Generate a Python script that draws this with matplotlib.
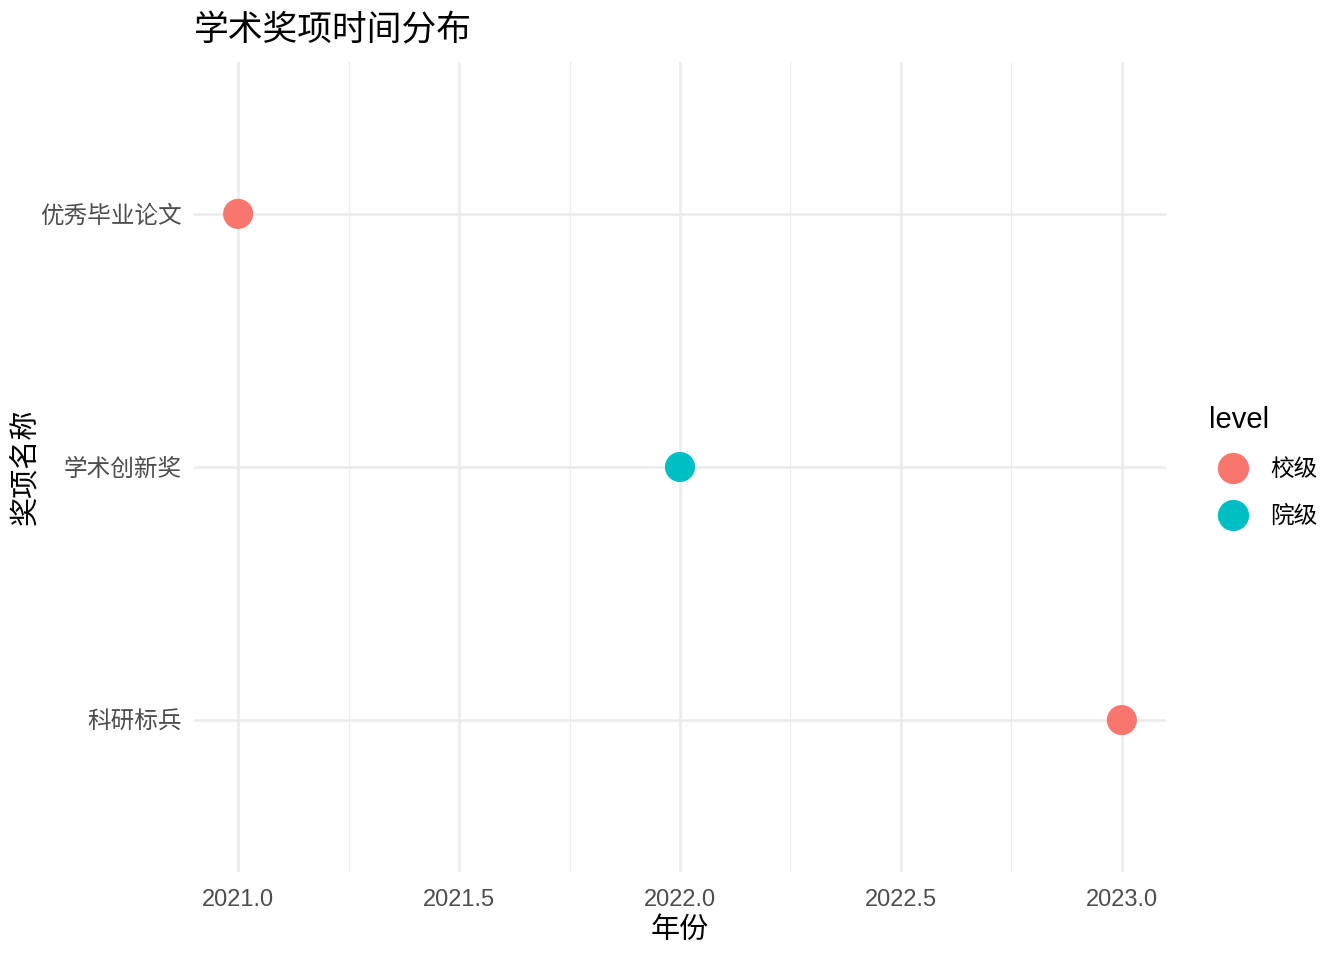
import matplotlib
matplotlib.use("Agg")
import matplotlib.pyplot as plt
from matplotlib.lines import Line2D
from matplotlib.ticker import MultipleLocator, FormatStrFormatter

plt.rcParams["font.family"] = ["Liberation Sans", "Noto Sans CJK SC", "DejaVu Sans"]

# data
awards = ["优秀毕业论文", "学术创新奖", "科研标兵"]
years = [2021, 2022, 2023]
levels = ["校级", "院级", "校级"]
y_order = ["科研标兵", "学术创新奖", "优秀毕业论文"]  # bottom to top
level_names = ["校级", "院级"]
level_colors = {"校级": "#F8766D", "院级": "#00BFC4"}

fig = plt.figure(figsize=(13.44, 9.6), dpi=100)
ax = fig.add_axes([0.1443, 0.0917, 0.8676 - 0.1443, 0.9354 - 0.0917])

ypos = [y_order.index(a) + 1 for a in awards]
cols = [level_colors[l] for l in levels]
ax.scatter(years, ypos, s=470, c=cols, linewidths=0, zorder=3)

ax.set_xlim(2020.9, 2023.1)
ax.set_ylim(0.4, 3.6)
ax.xaxis.set_major_locator(MultipleLocator(0.5))
ax.xaxis.set_minor_locator(MultipleLocator(0.25))
ax.xaxis.set_major_formatter(FormatStrFormatter("%.1f"))
ax.set_yticks(range(1, len(y_order) + 1))
ax.set_yticklabels(y_order)

ax.grid(which="major", color="#EBEBEB", linewidth=1.8)
ax.grid(which="minor", axis="x", color="#EBEBEB", linewidth=0.9)
ax.set_axisbelow(True)
for s in ax.spines.values():
    s.set_visible(False)
ax.tick_params(which="both", length=0)
ax.tick_params(axis="x", labelsize=17, labelcolor="#4D4D4D", pad=12)
ax.tick_params(axis="y", labelsize=17, labelcolor="#4D4D4D", pad=9)

ax.set_xlabel("年份", fontsize=21)
ax.set_ylabel("奖项名称", fontsize=21)
ax.xaxis.set_label_coords(0.5, -0.0716)
ax.xaxis.label.set_va("center")
ax.yaxis.set_label_coords(-0.174, 0.5)
ax.yaxis.label.set_va("center")
ax.set_title("学术奖项时间分布", fontsize=25, loc="left", pad=16)

handles = [Line2D([], [], marker="o", linestyle="none", markersize=22.5,
                  markerfacecolor=level_colors[n], markeredgewidth=0, label=n)
           for n in level_names]
leg = fig.legend(handles=handles, title="level", loc="center left",
                 bbox_to_anchor=(0.8925, 0.5135), frameon=False, fontsize=17,
                 title_fontsize=21, handletextpad=0.6, labelspacing=1.06,
                 borderaxespad=0)
leg._legend_box.align = "left"

fig.savefig("out.png", dpi=100)
